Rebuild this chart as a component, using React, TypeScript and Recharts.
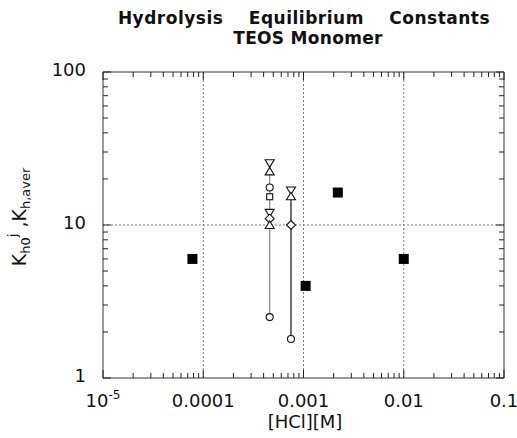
import React from "react";
import { ScatterChart, Scatter, XAxis, YAxis, ReferenceLine } from "recharts";

// axis decades and labels
const xDecades = [1e-5, 1e-4, 1e-3, 1e-2, 1e-1];
const xLabels = ["10", "0.0001", "0.001", "0.01", "0.1"];
const yDecades = [1, 10, 100];
const yLabels = ["1", "10", "100"];

// K_h,aver (filled squares)
const averHcl = [7.8e-5, 1.05e-3, 2.2e-3, 1.0e-2];
const averK = [6.0, 4.0, 16.3, 6.0];

// K_h0^j at the two acid concentrations
const hclA = 4.6e-4;
const markA = ["down", "up", "circle", "square", "down", "diamond", "up", "circle"];
const kA = [25.3, 22.4, 17.6, 15.3, 12.0, 11.0, 10.0, 2.5];
const hclB = 7.5e-4;
const markB = ["down", "up", "diamond", "circle"];
const kB = [16.8, 15.4, 10.0, 1.8];

const FONT = "'DejaVu Sans', sans-serif";
const AXIS = "#333";
const TICK = "#222";

const withMinors = (decades: number[]) =>
  decades.flatMap((d, i) =>
    i < decades.length - 1 ? [1, 2, 3, 4, 5, 6, 7, 8, 9].map((m) => (m === 1 ? d : d * m)) : [d]
  );
const xTicks = withMinors(xDecades);
const yTicks = withMinors(yDecades);

const averData = averHcl.map((hcl, i) => ({ hcl, k: averK[i] }));
const colA = kA.map((k, i) => ({ hcl: hclA, k, mark: markA[i] }));
const colB = kB.map((k, i) => ({ hcl: hclB, k, mark: markB[i] }));

const OpenMark = (props: any) => {
  const { cx, cy, payload } = props;
  const common = { fill: "#fff", stroke: "#111", strokeWidth: 1.1 };
  switch (payload.mark) {
    case "down":
      return <polygon points={`${cx - 4.5},${cy - 3.5} ${cx + 4.5},${cy - 3.5} ${cx},${cy + 4}`} {...common} />;
    case "up":
      return <polygon points={`${cx - 4.5},${cy + 3.5} ${cx + 4.5},${cy + 3.5} ${cx},${cy - 4}`} {...common} />;
    case "diamond":
      return <polygon points={`${cx},${cy - 4.5} ${cx + 4.5},${cy} ${cx},${cy + 4.5} ${cx - 4.5},${cy}`} {...common} />;
    case "square":
      return <rect x={cx - 3} y={cy - 3} width={6} height={6} {...common} />;
    default:
      return <circle cx={cx} cy={cy} r={3.5} {...common} />;
  }
};

const FilledSquare = (props: any) => {
  const { cx, cy } = props;
  return <rect x={cx - 5} y={cy - 5} width={10} height={10} fill="#000" />;
};

const BottomTick = (props: any) => {
  const { x, y, payload } = props;
  const i = xDecades.indexOf(payload.value);
  return (
    <g>
      <path d={`M${x},${y}V${y - (i >= 0 ? 8 : 5)}`} stroke={TICK} strokeWidth={1} fill="none" />
      {i >= 0 && (
        <text x={x} y={y + 29} textAnchor="middle" fontSize={18} fontFamily={FONT} fill="#111">
          {xLabels[i]}
          {i === 0 && (
            <tspan dy={-8} fontSize={12}>
              -5
            </tspan>
          )}
        </text>
      )}
    </g>
  );
};

const TopTick = (props: any) => {
  const { x, y, payload } = props;
  const major = xDecades.includes(payload.value);
  return <path d={`M${x},${y}V${y + (major ? 8 : 5)}`} stroke={TICK} fill="none" />;
};

const LeftTick = (props: any) => {
  const { x, y, payload } = props;
  const i = yDecades.indexOf(payload.value);
  return (
    <g>
      <path d={`M${x},${y}H${x + (i >= 0 ? 8 : 5)}`} stroke={TICK} fill="none" />
      {i >= 0 && (
        <text x={x - 17} y={y + 3.5} textAnchor="end" fontSize={18} fontFamily={FONT} fill="#111">
          {yLabels[i]}
        </text>
      )}
    </g>
  );
};

const RightTick = (props: any) => {
  const { x, y, payload } = props;
  const major = yDecades.includes(payload.value);
  return <path d={`M${x},${y}H${x - (major ? 8 : 5)}`} stroke={TICK} fill="none" />;
};

export default function App() {
  return (
    <div style={{ position: "absolute", left: 0, top: 0, width: 517, height: 438, background: "#fff" }}>
      <svg width={517} height={50} style={{ position: "absolute", left: 0, top: 0 }}>
        <text x={304} y={24} textAnchor="middle" fontSize={17} fontWeight="bold" fontFamily={FONT} letterSpacing={0.5} wordSpacing={19} fill="#111">
          Hydrolysis Equilibrium Constants
        </text>
        <text x={308} y={44} textAnchor="middle" fontSize={17} fontWeight="bold" fontFamily={FONT} letterSpacing={0.3} fill="#111">
          TEOS Monomer
        </text>
      </svg>
      <svg width={60} height={438} style={{ position: "absolute", left: 0, top: 0 }}>
        <text transform="rotate(-90)" x={-217} y={26} textAnchor="middle" fontSize={19} fontFamily={FONT} fill="#111">
          K
          <tspan fontSize={13} dy={4}>h0</tspan>
          <tspan fontSize={13} dy={-13}>j</tspan>
          <tspan fontSize={19} dy={9}> ,K</tspan>
          <tspan fontSize={13} dy={4}>h,aver</tspan>
        </text>
      </svg>
      <div style={{ position: "absolute", left: 0, top: 0 }}>
        <ScatterChart width={517} height={438} margin={{ top: 71, right: 12, bottom: 59, left: 102 }}>
          <XAxis
            xAxisId="b"
            dataKey="hcl"
            type="number"
            scale="log"
            domain={[1e-5, 0.1]}
            ticks={xTicks}
            interval={0}
            allowDataOverflow
            height={1}
            tickSize={0}
            tickMargin={0}
            tickLine={false}
            tick={<BottomTick />}
            axisLine={{ stroke: AXIS }}
          />
          <XAxis
            xAxisId="t"
            orientation="top"
            dataKey="hcl"
            type="number"
            scale="log"
            domain={[1e-5, 0.1]}
            ticks={xTicks}
            interval={0}
            allowDataOverflow
            height={1}
            tickSize={0}
            tickMargin={0}
            tickLine={false}
            tick={<TopTick />}
            axisLine={{ stroke: AXIS }}
          />
          <YAxis
            yAxisId="l"
            dataKey="k"
            type="number"
            scale="log"
            domain={[1, 100]}
            ticks={yTicks}
            interval={0}
            allowDataOverflow
            width={1}
            tickSize={0}
            tickMargin={0}
            tickLine={false}
            tick={<LeftTick />}
            axisLine={{ stroke: AXIS }}
          />
          <YAxis
            yAxisId="r"
            orientation="right"
            dataKey="k"
            type="number"
            scale="log"
            domain={[1, 100]}
            ticks={yTicks}
            interval={0}
            allowDataOverflow
            width={1}
            tickSize={0}
            tickMargin={0}
            tickLine={false}
            tick={<RightTick />}
            axisLine={{ stroke: AXIS }}
          />
          {xDecades.slice(1, -1).map((v) => (
            <ReferenceLine key={`x${v}`} x={v} xAxisId="b" yAxisId="l" stroke="#777" strokeDasharray="2 2" />
          ))}
          <ReferenceLine y={10} xAxisId="b" yAxisId="l" stroke="#777" strokeDasharray="2 2" />
          <Scatter data={colA} xAxisId="b" yAxisId="l" line={{ stroke: "#888", strokeWidth: 1.2 }} lineType="joint" shape={<OpenMark />} isAnimationActive={false} />
          <Scatter data={colB} xAxisId="b" yAxisId="l" line={{ stroke: "#111", strokeWidth: 1.2 }} lineType="joint" shape={<OpenMark />} isAnimationActive={false} />
          <Scatter data={averData} xAxisId="b" yAxisId="l" shape={<FilledSquare />} isAnimationActive={false} />
        </ScatterChart>
      </div>
      <svg width={517} height={438} style={{ position: "absolute", left: 0, top: 0, pointerEvents: "none" }}>
        <text x={305} y={428} textAnchor="middle" fontSize={18} fontFamily={FONT} fill="#111">
          [HCl][M]
        </text>
      </svg>
    </div>
  );
}
